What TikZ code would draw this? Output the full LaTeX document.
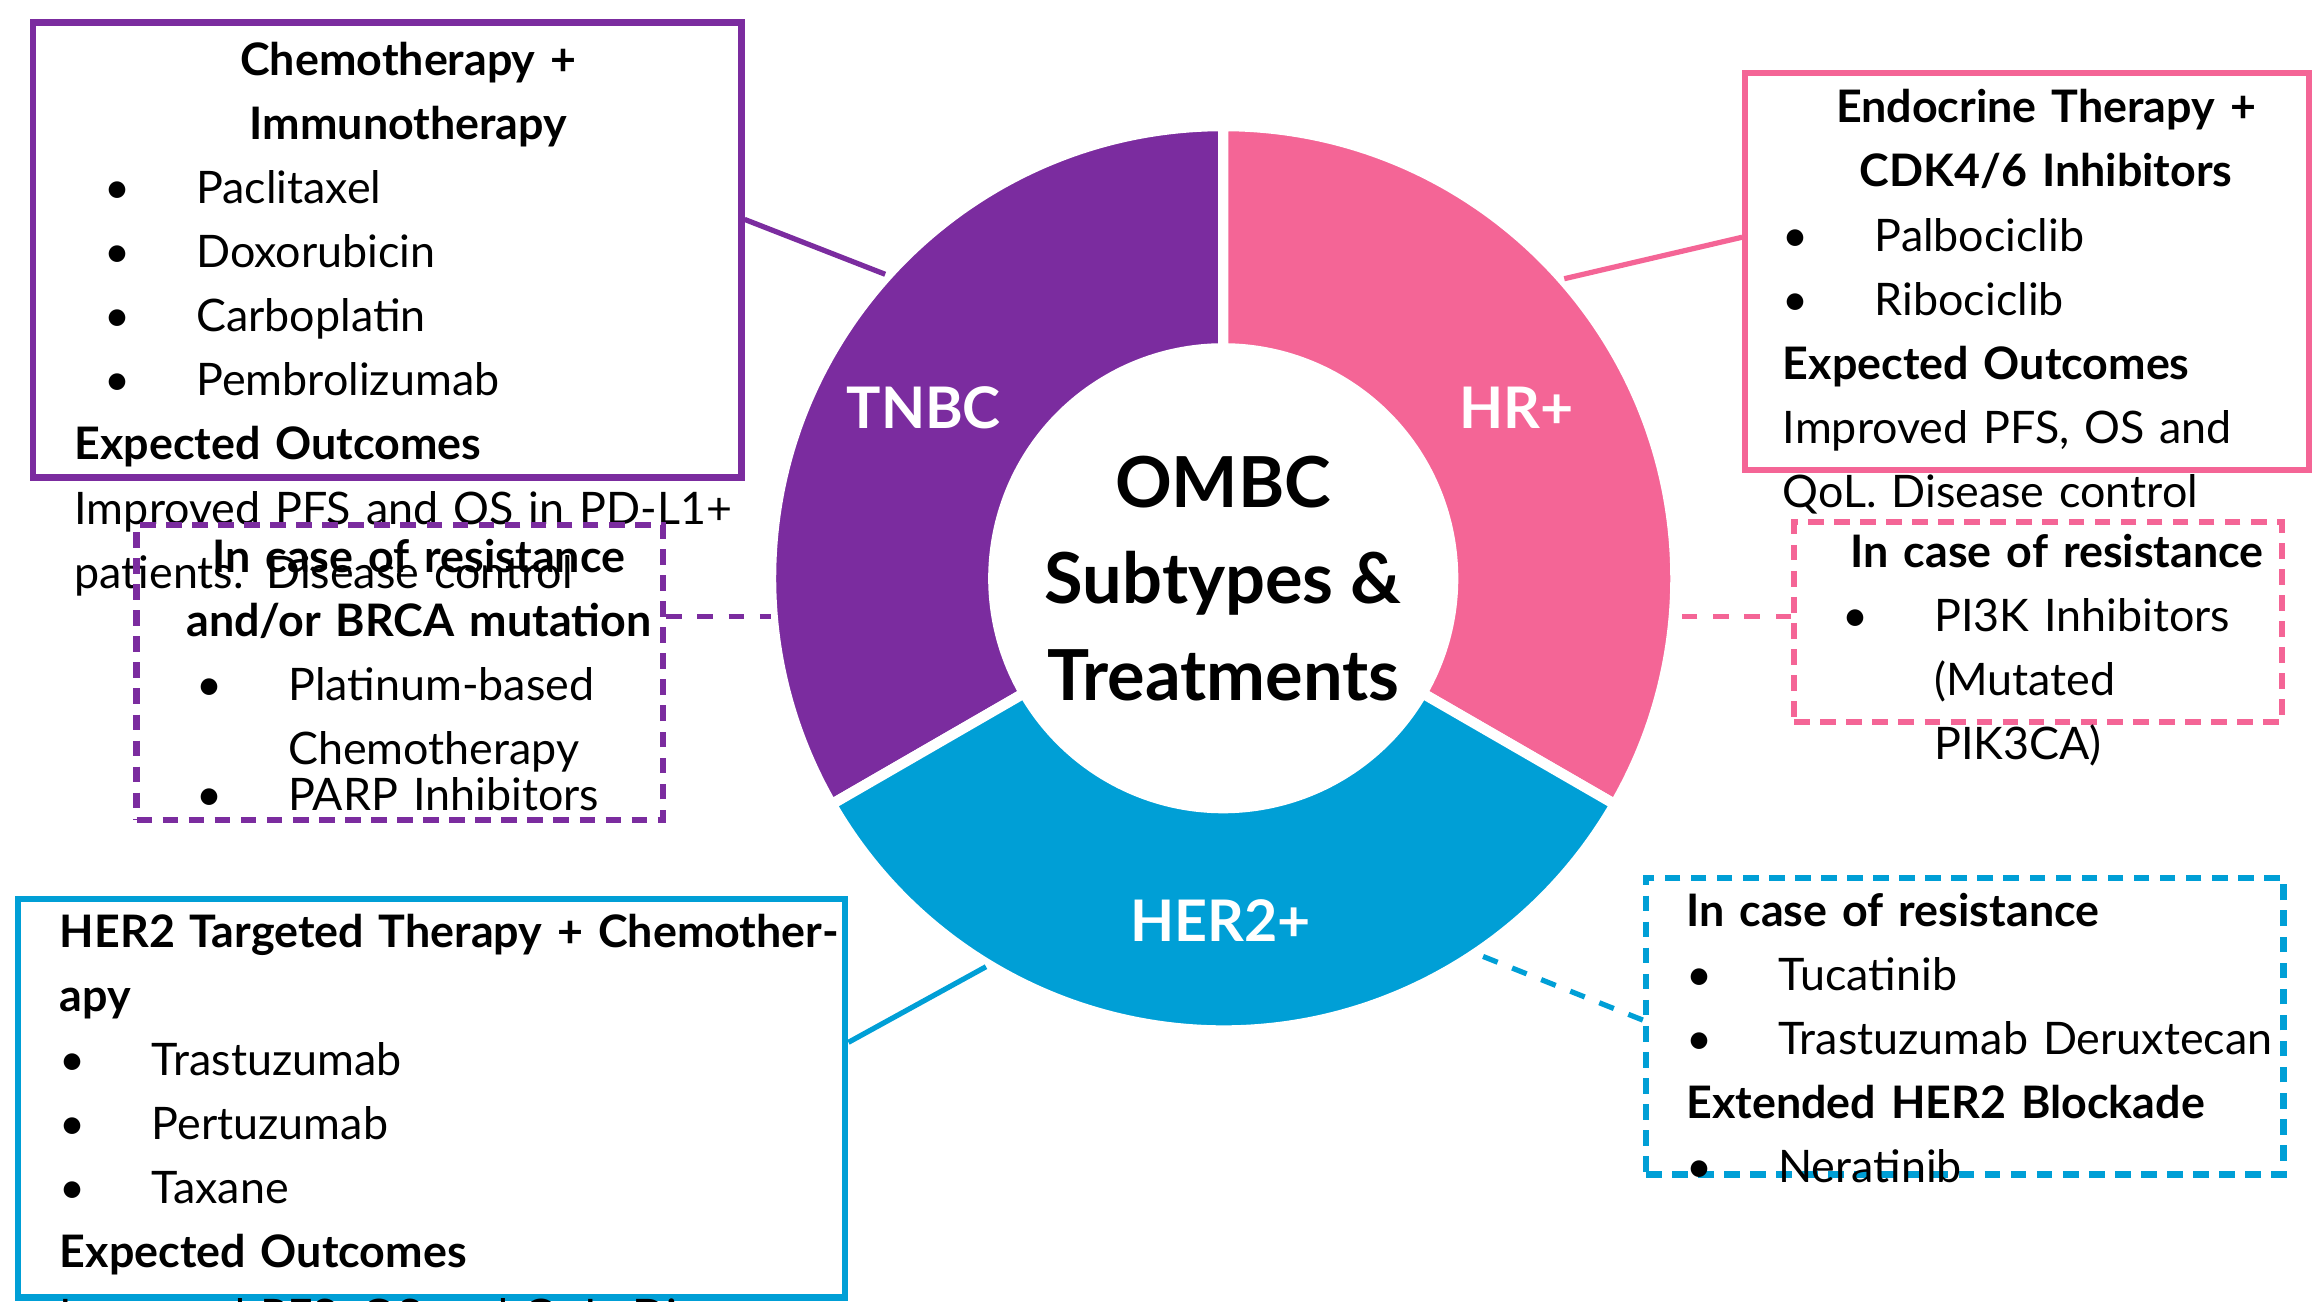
\documentclass[tikz,border=0pt]{standalone}
\usepackage{fontspec}
\setmainfont{Lato}
\usetikzlibrary{calc}
\definecolor{tnbc}{HTML}{7B2C9F}
\definecolor{hrp}{HTML}{F46596}
\definecolor{hertwo}{HTML}{009FD6}
\newcommand{\itm}[1]{\makebox[0.62cm][l]{\textbullet}#1\par}
\newcommand{\ttl}[1]{{\centering\bfseries #1\par}}
\begin{document}
\begin{tikzpicture}[
    box/.style={draw, line width=1.2pt, inner sep=0pt, anchor=north west, font=\fontsize{8.6}{12.3}\selectfont},
    rbox/.style={box, dashed, dash pattern=on 3pt off 2pt},
    seg/.style={draw=white, line width=2pt},
    lbl/.style={text=white, font=\bfseries\fontsize{11}{13}\selectfont}
  ]
  \useasboundingbox (0,0) rectangle (15.6,8.78);
  \coordinate (c) at (8.25,4.88);
  % ring
  \fill[tnbc, seg] (c) ++(90:3.05) arc (90:210:3.05) -- ($(c)+(210:1.55)$) arc (210:90:1.55) -- cycle;
  \fill[hrp, seg] (c) ++(90:3.05) arc (90:-30:3.05) -- ($(c)+(-30:1.55)$) arc (-30:90:1.55) -- cycle;
  \fill[hertwo, seg] (c) ++(210:3.05) arc (210:330:3.05) -- ($(c)+(330:1.55)$) arc (330:210:1.55) -- cycle;
  \node[lbl] (tn) at (6.23,6.03) {TNBC};
  \node[lbl] (hr) at (10.23,6.03) {HR+};
  \node[lbl] (he) at (8.23,2.57) {HER2+};
  \node[align=center, font=\bfseries\fontsize{13.5}{18.5}\selectfont] (mid) at (c) {OMBC\\Subtypes \&\\Treatments};
  % ring anchors
  \coordinate (tnA) at (5.97,6.93);
  \coordinate (tnB) at (5.20,4.62);
  \coordinate (hrA) at (10.55,6.90);
  \coordinate (hrB) at (11.30,4.62);
  \coordinate (heA) at (6.65,2.26);
  \coordinate (heB) at (10.00,2.33);
  % boxes
  \node[box, draw=tnbc, minimum width=4.78cm, minimum height=3.07cm] (tnT) at (0.20,8.65) {};
  \node[anchor=north west, text width=4.5cm, font=\fontsize{8.6}{12.3}\selectfont] at (0.38,8.62) {%
    \ttl{Chemotherapy + Immunotherapy}
    \hspace*{0.2cm}\itm{Paclitaxel}\hspace*{0.2cm}\itm{Doxorubicin}\hspace*{0.2cm}\itm{Carboplatin}\hspace*{0.2cm}\itm{Pembrolizumab}
    \textbf{Expected Outcomes}\par Improved PFS and OS in PD-L1+ patients. Disease control};
  \node[rbox, draw=tnbc, minimum width=3.55cm, minimum height=1.99cm] (tnR) at (0.90,5.26) {};
  \node[anchor=north west, text width=3.3cm, font=\fontsize{8.6}{12.3}\selectfont] at (1.05,5.27) {%
    \ttl{In case of resistance and/or BRCA mutation}
    \hspace*{0.15cm}\makebox[0.62cm][l]{\textbullet}\parbox[t]{2.4cm}{Platinum-based Chemotherapy}\par
    \hspace*{0.15cm}\itm{PARP Inhibitors}};
  \node[box, draw=hrp, minimum width=3.80cm, minimum height=2.68cm] (hrT) at (11.75,8.31) {};
  \node[anchor=north west, text width=3.55cm, font=\fontsize{8.6}{12.3}\selectfont] at (11.90,8.30) {%
    \ttl{Endocrine Therapy +\\CDK4/6 Inhibitors}
    \itm{Palbociclib}\itm{Ribociclib}
    \textbf{Expected Outcomes}\par Improved PFS, OS and QoL. Disease control};
  \node[rbox, draw=hrp, minimum width=3.29cm, minimum height=1.35cm] (hrR) at (12.08,5.28) {};
  \node[anchor=north west, text width=3.1cm, font=\fontsize{8.6}{12.3}\selectfont] at (12.20,5.30) {%
    \ttl{In case of resistance}
    \hspace*{0.1cm}\makebox[0.62cm][l]{\textbullet}\parbox[t]{2.4cm}{PI3K Inhibitors (Mutated PIK3CA)}};
  \node[box, draw=hertwo, minimum width=5.58cm, minimum height=2.69cm] (heT) at (0.10,2.74) {};
  \node[anchor=north west, text width=5.3cm, font=\fontsize{8.6}{12.3}\selectfont] at (0.28,2.74) {%
    \textbf{HER2 Targeted Therapy + Chemotherapy}\par
    \itm{Trastuzumab}\itm{Pertuzumab}\itm{Taxane}
    \textbf{Expected Outcomes}\par Improved PFS, OS and QoL. Disease control. Increased TTP};
  \node[rbox, draw=hertwo, minimum width=4.30cm, minimum height=2.00cm] (heR) at (11.08,2.88) {};
  \node[anchor=north west, text width=4.1cm, font=\fontsize{8.6}{12.3}\selectfont] at (11.25,2.88) {%
    \textbf{In case of resistance}\par
    \itm{Tucatinib}\itm{Trastuzumab Deruxtecan}
    \textbf{Extended HER2 Blockade}\par\itm{Neratinib}};
  % connectors
  \draw[tnbc, line width=1pt] (tnT.east |- 0,7.30) -- (tnA);
  \draw[tnbc, line width=1pt, dashed] (tnR.east |- tnB) -- (tnB);
  \draw[hrp, line width=1pt] (hrT.west |- 0,7.18) -- (hrA);
  \draw[hrp, line width=1pt, dashed] (hrR.west |- hrB) -- (hrB);
  \draw[hertwo, line width=1pt] (heT.east |- 0,1.75) -- (heA);
  \draw[hertwo, line width=1pt, dashed] (heR.west |- 0,1.90) -- (heB);
\end{tikzpicture}
\end{document}
